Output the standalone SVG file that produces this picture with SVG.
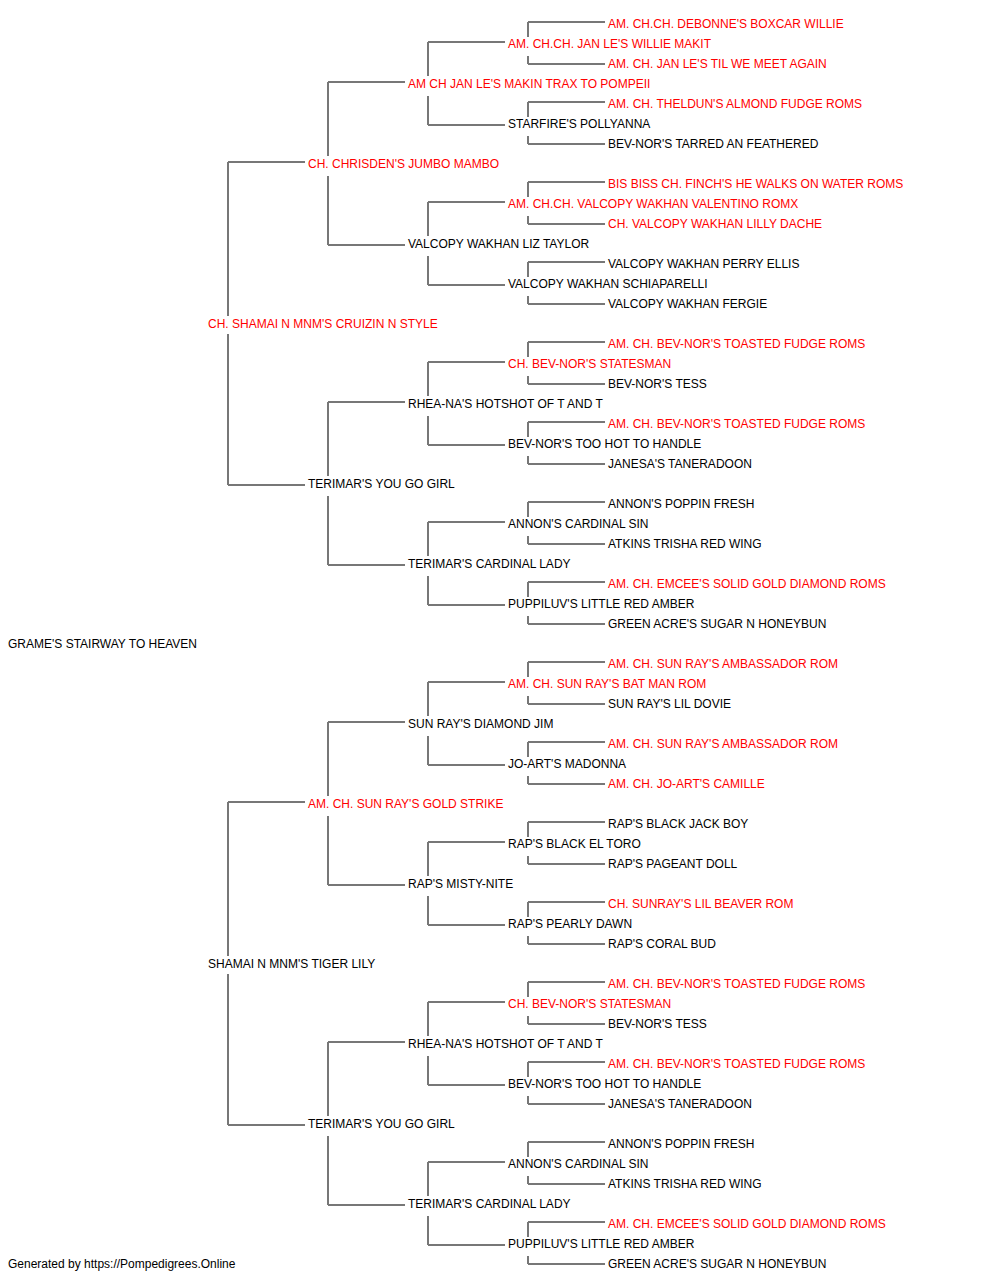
<svg xmlns="http://www.w3.org/2000/svg" width="1000" height="1280" viewBox="0 0 1000 1280">
<style>
text{font-family:"Liberation Sans",Arial,sans-serif;font-size:12px;fill:#000}
text.r{fill:#ff0000}
.c path{fill:none;stroke:#777;stroke-width:2}
</style>
<rect width="1000" height="1280" fill="#fff"/>
<g class="c" id="connectors">
<!-- gen1 -->
<path d="M228 162V316M228 334V485M228 162H305M228 485H305"/>
<path d="M228 802V956M228 974V1125M228 802H305M228 1125H305"/>
<!-- gen2 -->
<path d="M328 82V156M328 176V245M328 82H405M328 245H405"/>
<path d="M328 402V476M328 496V565M328 402H405M328 565H405"/>
<path d="M328 722V796M328 816V885M328 722H405M328 885H405"/>
<path d="M328 1042V1116M328 1136V1205M328 1042H405M328 1205H405"/>
<!-- gen3 -->
<path d="M428 42V76M428 96V125M428 42H505M428 125H505"/>
<path d="M428 202V236M428 256V285M428 202H505M428 285H505"/>
<path d="M428 362V396M428 416V445M428 362H505M428 445H505"/>
<path d="M428 522V556M428 576V605M428 522H505M428 605H505"/>
<path d="M428 682V716M428 736V765M428 682H505M428 765H505"/>
<path d="M428 842V876M428 896V925M428 842H505M428 925H505"/>
<path d="M428 1002V1036M428 1056V1085M428 1002H505M428 1085H505"/>
<path d="M428 1162V1196M428 1216V1245M428 1162H505M428 1245H505"/>
<!-- gen4 -->
<path d="M528 22V37M528 56V64M528 22H605M528 64H605"/>
<path d="M528 102V117M528 136V144M528 102H605M528 144H605"/>
<path d="M528 182V197M528 216V224M528 182H605M528 224H605"/>
<path d="M528 262V277M528 296V304M528 262H605M528 304H605"/>
<path d="M528 342V357M528 376V384M528 342H605M528 384H605"/>
<path d="M528 422V437M528 456V464M528 422H605M528 464H605"/>
<path d="M528 502V517M528 536V544M528 502H605M528 544H605"/>
<path d="M528 582V597M528 616V624M528 582H605M528 624H605"/>
<path d="M528 662V677M528 696V704M528 662H605M528 704H605"/>
<path d="M528 742V757M528 776V784M528 742H605M528 784H605"/>
<path d="M528 822V837M528 856V864M528 822H605M528 864H605"/>
<path d="M528 902V917M528 936V944M528 902H605M528 944H605"/>
<path d="M528 982V997M528 1016V1024M528 982H605M528 1024H605"/>
<path d="M528 1062V1077M528 1096V1104M528 1062H605M528 1104H605"/>
<path d="M528 1142V1157M528 1176V1184M528 1142H605M528 1184H605"/>
<path d="M528 1222V1237M528 1256V1264M528 1222H605M528 1264H605"/>
</g>
<g id="n0"><text x="8" y="648">GRAME'S STAIRWAY TO HEAVEN</text></g>
<g id="n1"><text class="r" x="208" y="328">CH. SHAMAI N MNM'S CRUIZIN N STYLE</text></g>
<g id="n2"><text x="208" y="968">SHAMAI N MNM'S TIGER LILY</text></g>
<g id="n3"><text class="r" x="308" y="168">CH. CHRISDEN'S JUMBO MAMBO</text></g>
<g id="n4"><text x="308" y="488">TERIMAR'S YOU GO GIRL</text></g>
<g id="n5"><text class="r" x="308" y="808">AM. CH. SUN RAY'S GOLD STRIKE</text></g>
<g id="n6"><text x="308" y="1128">TERIMAR'S YOU GO GIRL</text></g>
<g id="n7"><text class="r" x="408" y="88">AM CH JAN LE'S MAKIN TRAX TO POMPEII</text></g>
<g id="n8"><text x="408" y="248">VALCOPY WAKHAN LIZ TAYLOR</text></g>
<g id="n9"><text x="408" y="408">RHEA-NA'S HOTSHOT OF T AND T</text></g>
<g id="n10"><text x="408" y="568">TERIMAR'S CARDINAL LADY</text></g>
<g id="n11"><text x="408" y="728">SUN RAY'S DIAMOND JIM</text></g>
<g id="n12"><text x="408" y="888">RAP'S MISTY-NITE</text></g>
<g id="n13"><text x="408" y="1048">RHEA-NA'S HOTSHOT OF T AND T</text></g>
<g id="n14"><text x="408" y="1208">TERIMAR'S CARDINAL LADY</text></g>
<g id="n15"><text class="r" x="508" y="48">AM. CH.CH. JAN LE'S WILLIE MAKIT</text></g>
<g id="n16"><text x="508" y="128">STARFIRE'S POLLYANNA</text></g>
<g id="n17"><text class="r" x="508" y="208">AM. CH.CH. VALCOPY WAKHAN VALENTINO ROMX</text></g>
<g id="n18"><text x="508" y="288">VALCOPY WAKHAN SCHIAPARELLI</text></g>
<g id="n19"><text class="r" x="508" y="368">CH. BEV-NOR'S STATESMAN</text></g>
<g id="n20"><text x="508" y="448">BEV-NOR'S TOO HOT TO HANDLE</text></g>
<g id="n21"><text x="508" y="528">ANNON'S CARDINAL SIN</text></g>
<g id="n22"><text x="508" y="608">PUPPILUV'S LITTLE RED AMBER</text></g>
<g id="n23"><text class="r" x="508" y="688">AM. CH. SUN RAY'S BAT MAN ROM</text></g>
<g id="n24"><text x="508" y="768">JO-ART'S MADONNA</text></g>
<g id="n25"><text x="508" y="848">RAP'S BLACK EL TORO</text></g>
<g id="n26"><text x="508" y="928">RAP'S PEARLY DAWN</text></g>
<g id="n27"><text class="r" x="508" y="1008">CH. BEV-NOR'S STATESMAN</text></g>
<g id="n28"><text x="508" y="1088">BEV-NOR'S TOO HOT TO HANDLE</text></g>
<g id="n29"><text x="508" y="1168">ANNON'S CARDINAL SIN</text></g>
<g id="n30"><text x="508" y="1248">PUPPILUV'S LITTLE RED AMBER</text></g>
<g id="n31"><text class="r" x="608" y="28">AM. CH.CH. DEBONNE'S BOXCAR WILLIE</text></g>
<g id="n32"><text class="r" x="608" y="68">AM. CH. JAN LE'S TIL WE MEET AGAIN</text></g>
<g id="n33"><text class="r" x="608" y="108">AM. CH. THELDUN'S ALMOND FUDGE ROMS</text></g>
<g id="n34"><text x="608" y="148">BEV-NOR'S TARRED AN FEATHERED</text></g>
<g id="n35"><text class="r" x="608" y="188">BIS BISS CH. FINCH'S HE WALKS ON WATER ROMS</text></g>
<g id="n36"><text class="r" x="608" y="228">CH. VALCOPY WAKHAN LILLY DACHE</text></g>
<g id="n37"><text x="608" y="268">VALCOPY WAKHAN PERRY ELLIS</text></g>
<g id="n38"><text x="608" y="308">VALCOPY WAKHAN FERGIE</text></g>
<g id="n39"><text class="r" x="608" y="348">AM. CH. BEV-NOR'S TOASTED FUDGE ROMS</text></g>
<g id="n40"><text x="608" y="388">BEV-NOR'S TESS</text></g>
<g id="n41"><text class="r" x="608" y="428">AM. CH. BEV-NOR'S TOASTED FUDGE ROMS</text></g>
<g id="n42"><text x="608" y="468">JANESA'S TANERADOON</text></g>
<g id="n43"><text x="608" y="508">ANNON'S POPPIN FRESH</text></g>
<g id="n44"><text x="608" y="548">ATKINS TRISHA RED WING</text></g>
<g id="n45"><text class="r" x="608" y="588">AM. CH. EMCEE'S SOLID GOLD DIAMOND ROMS</text></g>
<g id="n46"><text x="608" y="628">GREEN ACRE'S SUGAR N HONEYBUN</text></g>
<g id="n47"><text class="r" x="608" y="668">AM. CH. SUN RAY'S AMBASSADOR ROM</text></g>
<g id="n48"><text x="608" y="708">SUN RAY'S LIL DOVIE</text></g>
<g id="n49"><text class="r" x="608" y="748">AM. CH. SUN RAY'S AMBASSADOR ROM</text></g>
<g id="n50"><text class="r" x="608" y="788">AM. CH. JO-ART'S CAMILLE</text></g>
<g id="n51"><text x="608" y="828">RAP'S BLACK JACK BOY</text></g>
<g id="n52"><text x="608" y="868">RAP'S PAGEANT DOLL</text></g>
<g id="n53"><text class="r" x="608" y="908">CH. SUNRAY'S LIL BEAVER ROM</text></g>
<g id="n54"><text x="608" y="948">RAP'S CORAL BUD</text></g>
<g id="n55"><text class="r" x="608" y="988">AM. CH. BEV-NOR'S TOASTED FUDGE ROMS</text></g>
<g id="n56"><text x="608" y="1028">BEV-NOR'S TESS</text></g>
<g id="n57"><text class="r" x="608" y="1068">AM. CH. BEV-NOR'S TOASTED FUDGE ROMS</text></g>
<g id="n58"><text x="608" y="1108">JANESA'S TANERADOON</text></g>
<g id="n59"><text x="608" y="1148">ANNON'S POPPIN FRESH</text></g>
<g id="n60"><text x="608" y="1188">ATKINS TRISHA RED WING</text></g>
<g id="n61"><text class="r" x="608" y="1228">AM. CH. EMCEE'S SOLID GOLD DIAMOND ROMS</text></g>
<g id="n62"><text x="608" y="1268">GREEN ACRE'S SUGAR N HONEYBUN</text></g>
<text x="8" y="1268">Generated by https://Pompedigrees.Online</text>
</svg>
